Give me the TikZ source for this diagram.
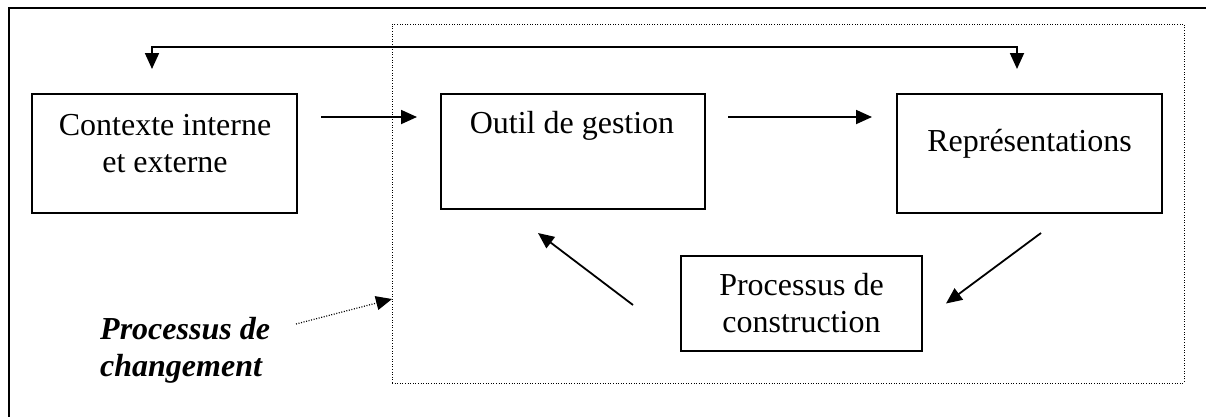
\documentclass[tikz,border=0pt]{standalone}
\usepackage{fontspec}
\setmainfont{Liberation Serif}
\usetikzlibrary{arrows.meta,calc}
\begin{document}
\begin{tikzpicture}[x=1pt,y=-1pt,
  box/.style={draw,line width=2pt,inner sep=0pt,outer sep=0pt},
  txt/.style={font=\fontsize{32}{37}\selectfont,align=center,inner sep=0pt},
  lbl/.style={font=\fontsize{32}{37}\selectfont\bfseries\itshape,align=left,inner sep=0pt},
  tip/.style={Triangle[length=16pt,width=14pt]},
  arr/.style={line width=1.8pt,-{Triangle[length=16pt,width=14pt]}},
  darr/.style={{Triangle[length=16pt,width=14pt]}-{Triangle[length=16pt,width=14pt]},line width=1.8pt},
  zonestyle/.style={draw,line width=1pt,dash pattern=on 1pt off 1.6pt,inner sep=0pt,outer sep=0pt},
  dotarr/.style={line width=1.2pt,dash pattern=on 1pt off 1.6pt,-{Triangle[length=16pt,width=14pt]}},
  frame/.style={line width=2pt}]
\useasboundingbox (0,0) rectangle (1206,416);
% outer frame (cropped)
\draw[frame] (1210,8) -- (9,8) -- (9,420);
% dotted zone
\node[zonestyle,minimum width=792pt,minimum height=359pt] (zone) at (788,203.5) {};
% boxes
\node[box,minimum width=265pt,minimum height=119pt] (ctx) at (164.5,153.5) {};
\node[box,minimum width=264pt,minimum height=115pt] (out) at (573,151.5) {};
\node[box,minimum width=265pt,minimum height=119pt] (rep) at (1029.5,153.5) {};
\node[box,minimum width=241pt,minimum height=95pt] (pro) at (801.5,303.5) {};
% texts
\node[txt,anchor=base] (ctxt) at (165,172) {Contexte interne\\et externe};
\node[txt,anchor=base] (outt) at (572,133) {Outil de gestion};
\node[txt,anchor=base] (rept) at (1029.5,151.7) {Représentations};
\node[txt,anchor=base] (prot) at (801.5,332.5) {Processus de\\construction};
\node[lbl,anchor=base west] (lab) at (100,376) {Processus de\\changement};
% connectors
\draw[darr] ($(ctx.north)+(-12.5,-25)$) |- ($(ctx.north)+(-12.5,-47)$) -| ($(rep.north)+(-12.5,-25)$);
\draw[arr] ($(ctx.north east)+(24,23)$) -- ($(out.north west)+(-24,23)$);
\draw[arr] ($(out.north east)+(23,23)$) -- ($(rep.north west)+(-25,23)$);
\draw[arr] ($(rep.south)+(11.5,20)$) -- ($(pro.east)+(24,0)$);
\draw[arr] ($(pro.west)+(-48,1.5)$) -- ($(out.south)+(-35,24)$);
\draw[dotarr] ($(lab.base west)+(196,-52)$) -- ($(zone.west)+(0,95.5)$);
\end{tikzpicture}
\end{document}
